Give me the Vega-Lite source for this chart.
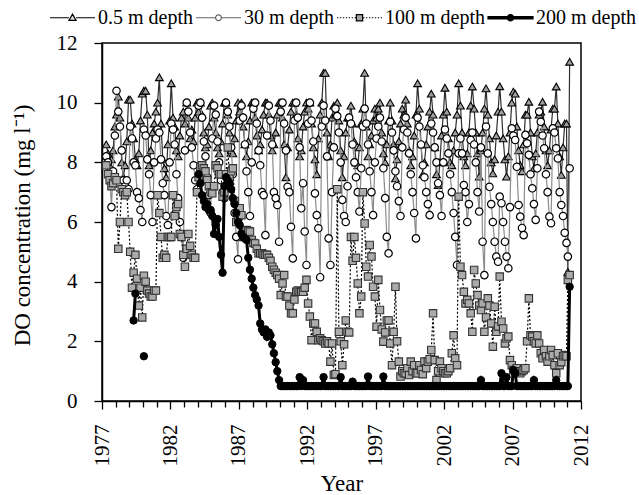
{
"$schema":"https://vega.github.io/schema/vega-lite/v6.json",
"width":479,"height":358,
"autosize":{"type":"none"},
"padding":{"left":102,"top":43,"right":58,"bottom":94},
"config":{"font":"Liberation Serif","view":{"stroke":"black","strokeWidth":1.5},
"axis":{"domainColor":"black","domainWidth":1.5,"tickColor":"black","tickWidth":1.3,"labelFont":"Liberation Serif","labelFontSize":21,"labelColor":"black","titleFont":"Liberation Serif","titleFontSize":23,"titleFontWeight":"normal","titleColor":"black","grid":false,"labelOverlap":false,"labelFlush":false,"labelBound":false}},
"data":{"values":[
{"t":1977.31,"a":8.6,"b":8.2,"c":7.9},{"t":1977.44,"a":8.3,"b":8.0,"c":7.6},{"t":1977.56,"a":7.9,"b":7.6,"c":7.4},{"t":1977.69,"a":8.1,"b":6.5,"c":7.2},{"t":1977.81,"a":8.4,"b":7.7,"c":7.3},{"t":1977.94,"a":9.2,"b":8.9,"c":7.5},
{"t":1978.06,"a":9.6,"b":10.4,"c":7.4},{"t":1978.19,"a":10.2,"b":9.7,"c":5.1},{"t":1978.31,"a":9.5,"b":9.2,"c":6.0},{"t":1978.44,"a":8.0,"b":8.4,"c":7.1},{"t":1978.56,"a":7.5,"b":7.4,"c":7.0},{"t":1978.69,"a":7.9,"b":7.2,"c":6.9},{"t":1978.81,"a":8.7,"b":7.4,"c":7.0},{"t":1978.94,"a":10.1,"b":7.1,"c":6.0},
{"t":1979.06,"a":10.1,"b":9.2,"c":5.0},{"t":1979.19,"a":9.3,"b":8.8,"c":3.8},{"t":1979.31,"a":8.8,"b":8.0,"c":4.3,"d":2.7},{"t":1979.44,"a":8.1,"b":7.9,"c":4.9,"d":3.6},{"t":1979.56,"a":7.9,"b":7.0,"c":4.1},{"t":1979.69,"a":8.3,"b":6.8,"c":3.2},{"t":1979.81,"a":9.4,"b":6.4,"c":3.8},{"t":1979.94,"a":10.3,"b":6.0,"c":2.8},
{"t":1980.06,"a":10.4,"b":9.1,"c":4.2,"d":1.5},{"t":1980.19,"a":10.4,"b":8.9,"c":4.0},{"t":1980.31,"a":9.6,"b":8.1,"c":3.7},{"t":1980.44,"a":7.9,"b":7.6,"c":3.6},{"t":1980.56,"a":8.4,"b":6.9,"c":3.5},{"t":1980.69,"a":9.0,"b":6.0,"c":3.5},{"t":1980.81,"a":9.3,"b":8.0,"c":3.7},{"t":1980.94,"a":9.7,"b":8.8,"c":3.7},
{"t":1981.06,"a":10.0,"b":9.1,"c":6.9},{"t":1981.19,"a":10.85,"b":9.0,"c":6.3},{"t":1981.31,"a":9.3,"b":8.1,"c":5.5},{"t":1981.44,"a":8.1,"b":7.3,"c":4.8},{"t":1981.56,"a":7.8,"b":6.9,"c":4.9},{"t":1981.69,"a":7.5,"b":6.2,"c":4.8},{"t":1981.81,"a":8.6,"b":5.9,"c":5.5},{"t":1981.94,"a":9.4,"b":8.0,"c":5.5},
{"t":1982.06,"a":10.65,"b":9.3,"c":5.5},{"t":1982.19,"a":9.5,"b":9.1,"c":6.9},{"t":1982.31,"a":9.2,"b":8.6,"c":6.2},{"t":1982.44,"a":8.4,"b":7.6,"c":6.5},{"t":1982.56,"a":8.2,"b":6.8,"c":6.6},{"t":1982.69,"a":8.9,"b":6.0,"c":5.6},{"t":1982.81,"a":9.5,"b":5.5,"c":5.5},{"t":1982.94,"a":9.7,"b":4.8,"c":4.9},
{"t":1983.06,"a":9.3,"b":8.4,"c":4.5},{"t":1983.19,"a":10.0,"b":10.0,"c":5.1},{"t":1983.31,"a":9.5,"b":9.7,"c":5.6},{"t":1983.44,"a":8.8,"b":9.0,"c":5.2},{"t":1983.56,"a":9.1,"b":8.5,"c":4.9},{"t":1983.69,"a":8.7,"b":7.9,"c":4.8},{"t":1983.81,"a":9.5,"b":7.4,"c":4.8},{"t":1983.94,"a":10.0,"b":7.1,"c":7.0},
{"t":1984.06,"a":9.7,"b":9.9,"c":7.5,"d":7.6},{"t":1984.19,"a":10.0,"b":10.0,"c":7.85,"d":7.3},{"t":1984.31,"a":9.6,"b":9.5,"c":7.9,"d":6.9},{"t":1984.44,"a":9.0,"b":8.7,"c":7.8,"d":6.7},{"t":1984.56,"a":8.5,"b":8.2,"c":7.7,"d":6.5},{"t":1984.69,"a":8.6,"b":7.5,"c":7.4,"d":6.6},{"t":1984.81,"a":9.2,"b":6.9,"c":7.2,"d":6.4},{"t":1984.94,"a":9.9,"b":6.3,"c":7.0,"d":6.4},
{"t":1985.06,"a":10.0,"b":8.8,"c":6.96,"d":6.2},{"t":1985.19,"a":9.5,"b":9.9,"c":7.2,"d":5.6},{"t":1985.31,"a":9.0,"b":9.6,"c":7.9,"d":5.9},{"t":1985.44,"a":8.5,"b":8.7,"c":7.8,"d":6.1},{"t":1985.56,"a":8.3,"b":8.0,"c":7.6,"d":5.5},{"t":1985.69,"a":8.7,"b":7.4,"c":7.6,"d":4.9},{"t":1985.81,"a":9.3,"b":7.0,"c":6.85,"d":4.3},{"t":1985.94,"a":10.0,"b":6.8,"c":7.0,"d":7.2},
{"t":1986.06,"a":10.0,"b":10.0,"c":7.6,"d":7.5},{"t":1986.19,"a":9.6,"b":9.7,"c":8.5,"d":7.4},{"t":1986.31,"a":9.0,"b":9.2,"c":7.5,"d":7.3},{"t":1986.44,"a":8.4,"b":8.5,"c":7.7,"d":7.1},{"t":1986.56,"a":8.3,"b":7.6,"c":7.8,"d":6.8},{"t":1986.69,"a":8.8,"b":6.3,"c":6.7,"d":6.6},{"t":1986.81,"a":9.4,"b":5.5,"c":6.0,"d":6.3},{"t":1986.94,"a":10.0,"b":4.75,"c":6.2,"d":6.0},
{"t":1987.06,"a":9.7,"b":9.4,"c":6.46,"d":5.9},{"t":1987.19,"a":10.0,"b":9.9,"c":6.23,"d":5.6},{"t":1987.31,"a":9.2,"b":9.5,"c":5.5,"d":5.5},{"t":1987.44,"a":8.6,"b":8.6,"c":5.6,"d":5.45},{"t":1987.56,"a":8.2,"b":7.7,"c":5.73,"d":5.4},{"t":1987.69,"a":8.7,"b":7.0,"c":5.7,"d":4.8},{"t":1987.81,"a":9.4,"b":6.2,"c":5.68,"d":4.4},{"t":1987.94,"a":10.0,"b":8.0,"c":5.4,"d":4.1},
{"t":1988.06,"a":10.0,"b":9.8,"c":5.3,"d":3.8},{"t":1988.19,"a":9.5,"b":10.0,"c":5.28,"d":3.55},{"t":1988.31,"a":8.9,"b":9.3,"c":5.1,"d":3.4},{"t":1988.44,"a":8.4,"b":8.4,"c":4.95,"d":3.2},{"t":1988.56,"a":8.6,"b":7.9,"c":4.95,"d":2.6},{"t":1988.69,"a":9.1,"b":7.0,"c":4.95,"d":2.4},{"t":1988.81,"a":9.6,"b":6.9,"c":4.9,"d":2.3},{"t":1988.94,"a":10.0,"b":5.56,"c":4.9,"d":2.4},
{"t":1989.06,"a":10.0,"b":8.9,"c":4.9,"d":2.15},{"t":1989.19,"a":9.6,"b":9.9,"c":4.8,"d":2.3},{"t":1989.31,"a":8.9,"b":9.4,"c":4.7,"d":2.2},{"t":1989.44,"a":8.4,"b":8.6,"c":4.5,"d":1.9},{"t":1989.56,"a":8.6,"b":7.0,"c":4.4,"d":1.6},{"t":1989.69,"a":9.0,"b":6.8,"c":4.3,"d":1.3},{"t":1989.81,"a":9.6,"b":6.57,"c":4.22,"d":1.0},{"t":1989.94,"a":10.0,"b":5.34,"c":4.1,"d":0.7},
{"t":1990.06,"a":10.0,"b":9.7,"c":3.55,"d":0.5},{"t":1990.19,"a":9.5,"b":10.0,"c":3.94,"d":0.5},{"t":1990.31,"a":8.6,"b":9.3,"c":4.22,"d":0.5},{"t":1990.44,"a":7.5,"b":8.4,"c":3.5,"d":0.5},{"t":1990.56,"a":8.5,"b":7.18,"c":3.5,"d":0.5},{"t":1990.69,"a":9.1,"b":7.0,"c":3.2,"d":0.5},{"t":1990.81,"a":9.7,"b":5.84,"c":2.94,"d":0.5},{"t":1990.94,"a":10.0,"b":4.78,"c":2.94,"d":0.5},
{"t":1991.06,"a":10.0,"b":9.4,"c":3.4,"d":0.5},{"t":1991.19,"a":9.6,"b":10.0,"c":3.66,"d":0.5},{"t":1991.31,"a":8.8,"b":9.5,"c":3.7,"d":0.5},{"t":1991.44,"a":8.2,"b":8.5,"c":3.66,"d":0.8},{"t":1991.56,"a":8.4,"b":6.46,"c":3.66,"d":0.5},{"t":1991.69,"a":9.2,"b":7.3,"c":3.66,"d":0.7},{"t":1991.81,"a":9.7,"b":5.68,"c":3.8,"d":0.5},{"t":1991.94,"a":10.0,"b":4.56,"c":4.06,"d":0.5},
{"t":1992.06,"a":9.8,"b":9.3,"c":3.27,"d":0.5},{"t":1992.19,"a":10.0,"b":10.0,"c":2.83,"d":0.5},{"t":1992.31,"a":9.3,"b":9.4,"c":2.04,"d":0.5},{"t":1992.44,"a":8.5,"b":8.7,"c":2.6,"d":0.5},{"t":1992.56,"a":8.1,"b":6.96,"c":2.6,"d":0.5},{"t":1992.69,"a":7.6,"b":6.23,"c":2.32,"d":0.5},{"t":1992.81,"a":8.8,"b":5.79,"c":2.04,"d":0.5},{"t":1992.94,"a":9.6,"b":4.15,"c":2.1,"d":0.5},
{"t":1993.06,"a":10.0,"b":9.2,"c":2.04,"d":0.5},{"t":1993.19,"a":11.0,"b":9.9,"c":2.0,"d":0.8},{"t":1993.31,"a":11.0,"b":9.4,"c":1.93,"d":0.5},{"t":1993.44,"a":9.0,"b":8.2,"c":2.0,"d":0.5},{"t":1993.56,"a":8.2,"b":5.45,"c":1.93,"d":0.5},{"t":1993.69,"a":8.6,"b":4.56,"c":1.32,"d":0.5},{"t":1993.81,"a":9.5,"b":7.0,"c":1.93,"d":0.5},{"t":1993.94,"a":9.9,"b":8.5,"c":0.87,"d":0.5},
{"t":1994.06,"a":9.6,"b":9.8,"c":0.9,"d":0.5},{"t":1994.19,"a":10.0,"b":9.55,"c":7.1,"d":0.5},{"t":1994.31,"a":9.4,"b":9.0,"c":2.32,"d":0.5},{"t":1994.44,"a":8.4,"b":8.0,"c":2.0,"d":0.8},{"t":1994.56,"a":7.5,"b":6.74,"c":1.2,"d":0.5},{"t":1994.69,"a":8.2,"b":6.2,"c":1.9,"d":0.5},{"t":1994.81,"a":9.0,"b":6.0,"c":2.7,"d":0.5},{"t":1994.94,"a":9.5,"b":7.2,"c":2.32,"d":0.5},
{"t":1995.06,"a":9.5,"b":9.5,"c":2.3,"d":0.5},{"t":1995.19,"a":9.9,"b":9.3,"c":5.5,"d":0.5},{"t":1995.31,"a":9.3,"b":8.6,"c":4.7,"d":0.65},{"t":1995.44,"a":8.7,"b":8.0,"c":5.5,"d":0.5},{"t":1995.56,"a":8.0,"b":7.5,"c":4.8,"d":0.5},{"t":1995.69,"a":7.9,"b":7.0,"c":3.94,"d":0.5},{"t":1995.81,"a":8.5,"b":6.35,"c":2.94,"d":0.5},{"t":1995.94,"a":9.3,"b":7.8,"c":3.5,"d":0.5},
{"t":1996.06,"a":9.8,"b":9.2,"c":7.0,"d":0.5},{"t":1996.19,"a":11.0,"b":9.8,"c":5.95,"d":0.5},{"t":1996.31,"a":9.2,"b":9.3,"c":4.5,"d":0.5},{"t":1996.44,"a":8.2,"b":8.6,"c":4.17,"d":0.82},{"t":1996.56,"a":8.6,"b":7.7,"c":5.23,"d":0.5},{"t":1996.69,"a":8.9,"b":7.0,"c":4.84,"d":0.5},{"t":1996.81,"a":9.4,"b":6.23,"c":3.83,"d":0.5},{"t":1996.94,"a":9.8,"b":8.0,"c":3.5,"d":0.5},
{"t":1997.06,"a":9.5,"b":8.8,"c":2.49,"d":0.5},{"t":1997.19,"a":9.8,"b":9.2,"c":4.06,"d":0.5},{"t":1997.31,"a":10.0,"b":9.5,"c":3.05,"d":0.5},{"t":1997.44,"a":9.0,"b":8.7,"c":2.4,"d":0.5},{"t":1997.56,"a":8.3,"b":7.8,"c":1.99,"d":0.82},{"t":1997.69,"a":8.0,"b":6.8,"c":2.3,"d":0.5},{"t":1997.81,"a":8.6,"b":5.5,"c":2.7,"d":0.5},{"t":1997.94,"a":9.4,"b":4.95,"c":2.7,"d":0.5},
{"t":1998.06,"a":10.0,"b":9.36,"c":1.93,"d":0.5},{"t":1998.19,"a":9.4,"b":9.0,"c":1.2,"d":0.5},{"t":1998.31,"a":8.6,"b":8.4,"c":2.32,"d":0.5},{"t":1998.44,"a":7.46,"b":7.7,"c":3.83,"d":0.5},{"t":1998.56,"a":8.1,"b":7.2,"c":2.0,"d":0.5},{"t":1998.69,"a":8.7,"b":6.7,"c":1.32,"d":0.5},{"t":1998.81,"a":9.3,"b":6.2,"c":0.82,"d":0.5},{"t":1998.94,"a":9.8,"b":8.5,"c":1.0,"d":0.5},
{"t":1999.06,"a":9.6,"b":9.1,"c":0.93,"d":0.5},{"t":1999.19,"a":10.1,"b":9.5,"c":0.93,"d":0.5},{"t":1999.31,"a":9.3,"b":9.0,"c":1.1,"d":0.5},{"t":1999.44,"a":8.4,"b":8.3,"c":0.87,"d":0.5},{"t":1999.56,"a":7.9,"b":7.6,"c":1.32,"d":0.5},{"t":1999.69,"a":8.2,"b":7.0,"c":1.0,"d":0.5},{"t":1999.81,"a":8.9,"b":6.3,"c":1.2,"d":0.5},{"t":1999.94,"a":9.6,"b":5.45,"c":0.93,"d":0.5},
{"t":2000.06,"a":10.65,"b":9.5,"c":0.93,"d":0.5},{"t":2000.19,"a":9.8,"b":9.2,"c":1.2,"d":0.5},{"t":2000.31,"a":8.6,"b":8.6,"c":1.04,"d":0.5},{"t":2000.44,"a":7.6,"b":7.9,"c":0.9,"d":0.5},{"t":2000.56,"a":8.0,"b":7.5,"c":1.32,"d":0.5},{"t":2000.69,"a":8.6,"b":7.0,"c":1.1,"d":0.5},{"t":2000.81,"a":9.2,"b":6.6,"c":1.32,"d":0.5},{"t":2000.94,"a":9.7,"b":6.23,"c":1.4,"d":0.5},
{"t":2001.06,"a":10.3,"b":9.3,"c":1.71,"d":0.5},{"t":2001.19,"a":9.6,"b":9.0,"c":2.94,"d":0.5},{"t":2001.31,"a":8.5,"b":8.5,"c":1.37,"d":0.5},{"t":2001.44,"a":7.6,"b":8.0,"c":0.7,"d":0.5},{"t":2001.56,"a":7.24,"b":7.3,"c":1.0,"d":0.5},{"t":2001.69,"a":8.0,"b":6.9,"c":1.32,"d":0.5},{"t":2001.81,"a":8.9,"b":6.2,"c":1.1,"d":0.5},{"t":2001.94,"a":9.6,"b":8.0,"c":1.0,"d":0.5},
{"t":2002.06,"a":10.5,"b":9.1,"c":0.93,"d":0.5},{"t":2002.19,"a":9.7,"b":8.8,"c":0.93,"d":0.5},{"t":2002.31,"a":8.8,"b":8.3,"c":1.0,"d":0.5},{"t":2002.44,"a":8.0,"b":7.6,"c":1.1,"d":0.5},{"t":2002.56,"a":7.9,"b":7.0,"c":1.6,"d":0.5},{"t":2002.69,"a":8.4,"b":6.3,"c":2.2,"d":0.5},{"t":2002.81,"a":9.0,"b":5.5,"c":1.43,"d":0.5},{"t":2002.94,"a":9.6,"b":4.56,"c":1.2,"d":0.5},
{"t":2003.06,"a":10.65,"b":8.3,"c":6.85,"d":0.5},{"t":2003.19,"a":9.9,"b":8.8,"c":4.5,"d":0.5},{"t":2003.31,"a":9.0,"b":8.3,"c":4.22,"d":0.5},{"t":2003.44,"a":8.2,"b":7.24,"c":3.66,"d":0.5},{"t":2003.56,"a":7.9,"b":7.0,"c":3.27,"d":0.5},{"t":2003.69,"a":8.3,"b":6.0,"c":3.39,"d":0.5},{"t":2003.81,"a":9.0,"b":6.6,"c":3.27,"d":0.5},{"t":2003.94,"a":9.9,"b":8.75,"c":2.94,"d":0.5},
{"t":2004.06,"a":10.54,"b":9.0,"c":2.32,"d":0.5},{"t":2004.19,"a":9.8,"b":8.6,"c":4.39,"d":0.5},{"t":2004.31,"a":9.0,"b":8.0,"c":3.94,"d":0.5},{"t":2004.44,"a":8.3,"b":7.0,"c":3.55,"d":0.5},{"t":2004.56,"a":7.52,"b":6.35,"c":3.2,"d":0.5},{"t":2004.69,"a":8.4,"b":8.5,"c":3.05,"d":0.7},{"t":2004.81,"a":9.0,"b":5.34,"c":3.27,"d":0.5},{"t":2004.94,"a":9.8,"b":4.22,"c":2.32,"d":0.5},
{"t":2005.06,"a":10.48,"b":9.2,"c":2.8,"d":0.5},{"t":2005.19,"a":9.6,"b":8.3,"c":3.44,"d":0.5},{"t":2005.31,"a":8.8,"b":7.18,"c":3.2,"d":0.5},{"t":2005.44,"a":8.0,"b":6.6,"c":2.6,"d":0.5},{"t":2005.56,"a":7.63,"b":6.0,"c":1.82,"d":0.5},{"t":2005.69,"a":8.1,"b":5.34,"c":3.16,"d":0.5},{"t":2005.81,"a":8.9,"b":4.84,"c":2.32,"d":0.5},{"t":2005.94,"a":9.7,"b":4.67,"c":2.5,"d":0.5},
{"t":2006.06,"a":10.55,"b":6.85,"c":4.17,"d":0.5},{"t":2006.19,"a":9.7,"b":6.63,"c":2.66,"d":0.93},{"t":2006.31,"a":8.8,"b":6.0,"c":2.43,"d":0.5},{"t":2006.44,"a":8.1,"b":5.34,"c":1.93,"d":0.5},{"t":2006.56,"a":7.52,"b":4.84,"c":2.1,"d":0.8},{"t":2006.69,"a":8.2,"b":4.45,"c":2.16,"d":0.5},{"t":2006.81,"a":9.0,"b":6.5,"c":1.37,"d":0.5},{"t":2006.94,"a":10.0,"b":9.14,"c":1.2,"d":0.5},
{"t":2007.06,"a":10.37,"b":8.9,"c":1.04,"d":1.04},{"t":2007.19,"a":10.3,"b":8.75,"c":1.0,"d":0.93},{"t":2007.31,"a":9.2,"b":7.85,"c":1.1,"d":0.5},{"t":2007.44,"a":8.4,"b":6.57,"c":1.0,"d":0.5},{"t":2007.56,"a":7.9,"b":6.18,"c":0.93,"d":0.5},{"t":2007.69,"a":7.7,"b":5.8,"c":1.0,"d":0.5},{"t":2007.81,"a":8.6,"b":5.56,"c":1.04,"d":0.5},{"t":2007.94,"a":9.6,"b":8.92,"c":1.1,"d":0.5},
{"t":2008.06,"a":9.6,"b":8.64,"c":2.0,"d":0.5},{"t":2008.19,"a":10.03,"b":8.25,"c":3.44,"d":0.5},{"t":2008.31,"a":9.0,"b":7.6,"c":2.2,"d":0.5},{"t":2008.44,"a":8.2,"b":7.13,"c":2.16,"d":0.5},{"t":2008.56,"a":7.8,"b":6.6,"c":2.0,"d":0.7},{"t":2008.69,"a":8.3,"b":6.07,"c":1.93,"d":0.5},{"t":2008.81,"a":9.0,"b":7.8,"c":2.2,"d":0.5},{"t":2008.94,"a":9.6,"b":9.7,"c":1.93,"d":0.5},
{"t":2009.06,"a":9.7,"b":9.36,"c":1.6,"d":0.5},{"t":2009.19,"a":10.03,"b":8.9,"c":1.43,"d":0.5},{"t":2009.31,"a":9.2,"b":8.47,"c":1.71,"d":0.5},{"t":2009.44,"a":8.4,"b":7.6,"c":1.5,"d":0.5},{"t":2009.56,"a":7.9,"b":7.0,"c":1.32,"d":0.5},{"t":2009.69,"a":8.4,"b":6.18,"c":1.5,"d":0.5},{"t":2009.81,"a":9.1,"b":5.96,"c":1.71,"d":0.5},{"t":2009.94,"a":9.8,"b":9.14,"c":1.54,"d":0.5},
{"t":2010.06,"a":9.8,"b":9.0,"c":1.2,"d":0.5},{"t":2010.19,"a":10.54,"b":8.47,"c":0.93,"d":0.7},{"t":2010.31,"a":9.3,"b":8.13,"c":1.6,"d":0.5},{"t":2010.44,"a":8.2,"b":7.0,"c":1.2,"d":0.5},{"t":2010.56,"a":7.58,"b":6.57,"c":1.3,"d":0.5},{"t":2010.69,"a":8.5,"b":6.2,"c":1.5,"d":0.5},{"t":2010.81,"a":9.3,"b":5.64,"c":1.54,"d":0.5},{"t":2010.94,"a":9.3,"b":5.3,"c":1.5,"d":0.5},
{"t":2011.04,"a":4.33,"b":4.84,"c":4.06,"d":0.5},{"t":2011.17,"a":11.37,"b":7.8,"c":4.22,"d":3.83}
]},
"encoding":{"x":{"field":"t","type":"quantitative","scale":{"domain":[1977,2012],"nice":false,"zero":false},
"axis":{"values":[1977,1978,1979,1980,1981,1982,1983,1984,1985,1986,1987,1988,1989,1990,1991,1992,1993,1994,1995,1996,1997,1998,1999,2000,2001,2002,2003,2004,2005,2006,2007,2008,2009,2010,2011,2012],"format":"d","labelExpr":"(datum.value - 1977) % 5 == 0 ? datum.label : ''","labelAngle":-90,"labelPadding":15,"tickSize":{"condition":{"test":"(datum.value - 1977) % 5 == 0","value":8},"value":6},"title":"Year","titleY":89,"titleBaseline":"alphabetic"}}},
"layer":[
{"transform":[{"filter":"isValid(datum.a)"}],"mark":{"type":"line","color":"#2e2e2e","strokeWidth":1.2},
"encoding":{"y":{"field":"a","type":"quantitative","scale":{"domain":[0,12],"nice":false},"title":"DO concentration (mg l⁻¹)",
"axis":{"values":[0,1,2,3,4,5,6,7,8,9,10,11,12],"labelExpr":"datum.value % 2 == 0 ? datum.label : ''","labelPadding":17,"tickSize":{"condition":{"test":"datum.value % 2 == 0","value":8},"value":5},"titleX":-80,"titleY":182,"titleAngle":-90,"titleBaseline":"middle","titleAlign":"center"}}}},
{"transform":[{"filter":"isValid(datum.a)"}],"mark":{"type":"point","shape":"triangle-up","size":60,"filled":true,"fill":"#a0a0a0","stroke":"black","strokeWidth":1.1,"opacity":1},
"encoding":{"y":{"field":"a","type":"quantitative","scale":{"domain":[0,12],"nice":false},"title":"DO concentration (mg l⁻¹)"}}},
{"transform":[{"filter":"isValid(datum.b)"}],"mark":{"type":"line","color":"#8c8c8c","strokeWidth":1.2},
"encoding":{"y":{"field":"b","type":"quantitative","scale":{"domain":[0,12],"nice":false},"title":"DO concentration (mg l⁻¹)"}}},
{"transform":[{"filter":"isValid(datum.b)"}],"mark":{"type":"point","shape":"circle","size":55,"filled":true,"fill":"white","stroke":"black","strokeWidth":1.2,"opacity":1},
"encoding":{"y":{"field":"b","type":"quantitative","scale":{"domain":[0,12],"nice":false},"title":"DO concentration (mg l⁻¹)"}}},
{"transform":[{"filter":"isValid(datum.c)"}],"mark":{"type":"line","color":"black","strokeWidth":1.2,"strokeDash":[2,2]},
"encoding":{"y":{"field":"c","type":"quantitative","scale":{"domain":[0,12],"nice":false},"title":"DO concentration (mg l⁻¹)"}}},
{"transform":[{"filter":"isValid(datum.c)"}],"mark":{"type":"point","shape":"square","size":55,"filled":true,"fill":"#ababab","stroke":"#333333","strokeWidth":1.1,"opacity":1},
"encoding":{"y":{"field":"c","type":"quantitative","scale":{"domain":[0,12],"nice":false},"title":"DO concentration (mg l⁻¹)"}}},
{"transform":[{"filter":"isValid(datum.d) && datum.t < 1980"}],"mark":{"type":"line","color":"black","strokeWidth":3},
"encoding":{"y":{"field":"d","type":"quantitative","scale":{"domain":[0,12],"nice":false},"title":"DO concentration (mg l⁻¹)"}}},
{"transform":[{"filter":"isValid(datum.d) && datum.t > 1983"}],"mark":{"type":"line","color":"black","strokeWidth":3},
"encoding":{"y":{"field":"d","type":"quantitative","scale":{"domain":[0,12],"nice":false},"title":"DO concentration (mg l⁻¹)"}}},
{"transform":[{"filter":"isValid(datum.d)"}],"mark":{"type":"point","shape":"circle","size":55,"filled":true,"fill":"black","stroke":"black","strokeWidth":1,"opacity":1},
"encoding":{"y":{"field":"d","type":"quantitative","scale":{"domain":[0,12],"nice":false},"title":"DO concentration (mg l⁻¹)"}}},
{"data":{"values":[{"s":"0.5 m depth"},{"s":"30 m depth"},{"s":"100 m depth"},{"s":"200 m depth"}]},
"transform":[{"filter":"datum.s == 'none'"}],
"mark":{"type":"point","filled":true,"size":2025,"strokeWidth":1.2,"opacity":1},
"encoding":{
"x":{"value":0},"y":{"value":0},
"shape":{"field":"s","type":"nominal","scale":{"domain":["0.5 m depth","30 m depth","100 m depth","200 m depth"],"range":["M-1,0H-0.16M0.16,0H1M0,-0.16L0.16,0.12L-0.16,0.12Z","M-1,0H-0.13M0.13,0H1M-0.13,0A0.13,0.13 0 1,0 0.13,0A0.13,0.13 0 1,0 -0.13,0Z","M-1,0h0.06m0.07,0h0.06m0.07,0h0.06m0.07,0h0.06m0.07,0h0.06m0.07,0h0.06m0.07,0h0.06M0.16,0h0.06m0.07,0h0.06m0.07,0h0.06m0.07,0h0.06m0.07,0h0.06m0.07,0h0.06m0.07,0h0.06M-0.14,-0.14H0.14V0.14H-0.14Z","M-1,-0.05H1V0.05H-1ZM-0.14,0A0.14,0.14 0 1,1 0.14,0A0.14,0.14 0 1,1 -0.14,0Z"]},
"legend":{"orient":"none","legendX":-53,"legendY":-49,"direction":"horizontal","title":null,"symbolSize":2025,"symbolStrokeWidth":1.2,"labelFont":"Liberation Serif","labelFontSize":20,"labelColor":"black","labelOffset":2,"columnPadding":0,"padding":0,"labelLimit":0}},
"fill":{"field":"s","type":"nominal","scale":{"domain":["0.5 m depth","30 m depth","100 m depth","200 m depth"],"range":["#dddddd","#ffffff","#a6a6a6","#000000"]},
"legend":{"orient":"none","legendX":-53,"legendY":-49,"direction":"horizontal","title":null,"symbolSize":2025,"symbolStrokeWidth":1.2,"labelFont":"Liberation Serif","labelFontSize":20,"labelColor":"black","labelOffset":2,"columnPadding":0,"padding":0,"labelLimit":0}},
"stroke":{"field":"s","type":"nominal","scale":{"domain":["0.5 m depth","30 m depth","100 m depth","200 m depth"],"range":["#000000","#666666","#000000","#000000"]},
"legend":{"orient":"none","legendX":-53,"legendY":-49,"direction":"horizontal","title":null,"symbolSize":2025,"symbolStrokeWidth":1.2,"labelFont":"Liberation Serif","labelFontSize":20,"labelColor":"black","labelOffset":2,"columnPadding":0,"padding":0,"labelLimit":0}}
}}
]
}
